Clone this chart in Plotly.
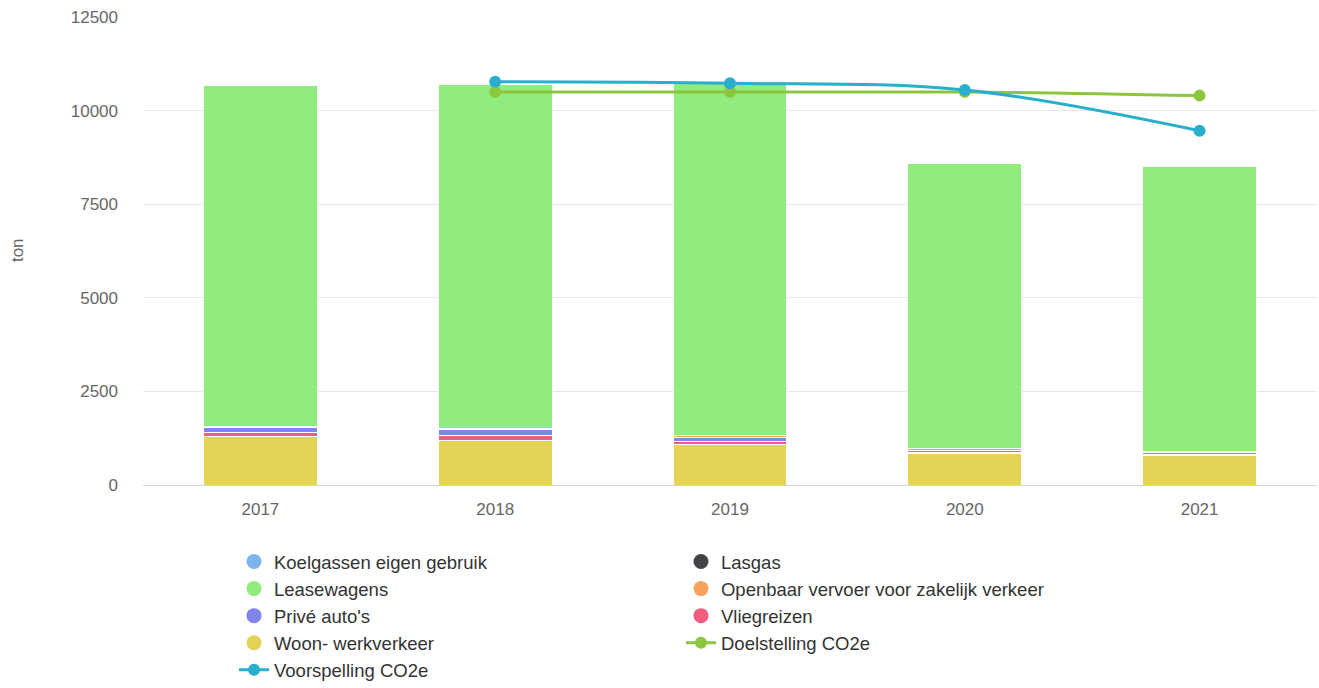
import plotly.graph_objects as go

# Years on the category axis
years = ["2017", "2018", "2019", "2020", "2021"]

# Stacked emission sources (ton CO2e), bottom of the stack first
woon_werkverkeer = [1300, 1180, 1070, 840, 800]
vliegreizen = [100, 130, 100, 20, 15]
prive_autos = [130, 160, 110, 70, 50]
openbaar_vervoer = [40, 30, 40, 40, 40]
leasewagens = [9110, 9190, 9450, 7610, 7590]
lasgas = [10, 10, 10, 10, 10]
koelgassen = [10, 10, 10, 10, 10]

# Target and forecast lines (2018 onwards)
line_years = ["2018", "2019", "2020", "2021"]
doelstelling = [10500, 10500, 10500, 10400]
voorspelling = [10770, 10730, 10550, 9460]

y_ticks = [0, 2500, 5000, 7500, 10000, 12500]
y_tick_labels = ["0", "2500", "5000", "7500", "10000", "12500"]

FONT = "Liberation Sans, Arial, Helvetica, sans-serif"

# name, values, colour, legend position
stack = [
    ("Woon- werkverkeer", woon_werkverkeer, "#e4d354", 7),
    ("Vliegreizen", vliegreizen, "#f15c80", 6),
    ("Privé auto's", prive_autos, "#8085e9", 5),
    ("Openbaar vervoer voor zakelijk verkeer", openbaar_vervoer, "#f7a35c", 4),
    ("Leasewagens", leasewagens, "#90ed7d", 3),
    ("Lasgas", lasgas, "#434348", 2),
    ("Koelgassen eigen gebruik", koelgassen, "#7cb5ec", 1),
]

fig = go.Figure()

for name, vals, color, rank in stack:
    fig.add_trace(go.Bar(
        x=years, y=vals, name=name,
        marker=dict(color=color, line=dict(color="white", width=1)),
        showlegend=False, legendgroup=name, width=0.485,
    ))

# Round legend markers for the bar series
for name, vals, color, rank in stack:
    fig.add_trace(go.Scatter(
        x=[None], y=[None], mode="markers", name=name, legendgroup=name, legendrank=rank,
        marker=dict(color=color, size=15, symbol="circle"),
    ))

fig.add_trace(go.Scatter(
    x=line_years, y=doelstelling, name="Doelstelling CO2e", mode="lines+markers",
    line=dict(color="#8cc63e", width=3, shape="spline"),
    marker=dict(color="#8cc63e", size=12), legendrank=8, cliponaxis=False,
))
fig.add_trace(go.Scatter(
    x=line_years, y=voorspelling, name="Voorspelling CO2e", mode="lines+markers",
    line=dict(color="#2aaecd", width=3, shape="spline"),
    marker=dict(color="#2aaecd", size=12), legendrank=9, cliponaxis=False,
))

fig.update_layout(
    width=1319, height=688,
    margin=dict(l=143, r=2, t=17, b=203, autoexpand=False),
    barmode="stack",
    plot_bgcolor="white", paper_bgcolor="white",
    font=dict(family=FONT, color="#666666", size=17),
    showlegend=True,
    legend=dict(
        orientation="h", x=0.0775, y=-0.124, xanchor="left", yanchor="top",
        entrywidth=402, entrywidthmode="pixels",
        font=dict(family=FONT, size=18.5, color="#333333"),
        itemclick=False, tracegroupgap=0,
    ),
    xaxis=dict(
        type="category", showgrid=False, showline=True, linecolor="#ccd6eb", linewidth=1,
        ticks="", tickfont=dict(size=17, color="#666666"), ticklabelstandoff=9,
    ),
    yaxis=dict(
        range=[0, 12500], tickvals=y_ticks, ticktext=y_tick_labels,
        showgrid=True, gridcolor="#e6e6e6",
        zeroline=False, showline=False, ticks="",
        tickfont=dict(size=17, color="#666666"), ticklabelstandoff=24,
    ),
    annotations=[dict(
        text="ton", xref="paper", yref="paper", x=-0.1073, y=0.502,
        xanchor="center", yanchor="middle",
        showarrow=False, textangle=-90, font=dict(size=17, color="#666666"),
    )],
)

fig.write_html("out.html")
